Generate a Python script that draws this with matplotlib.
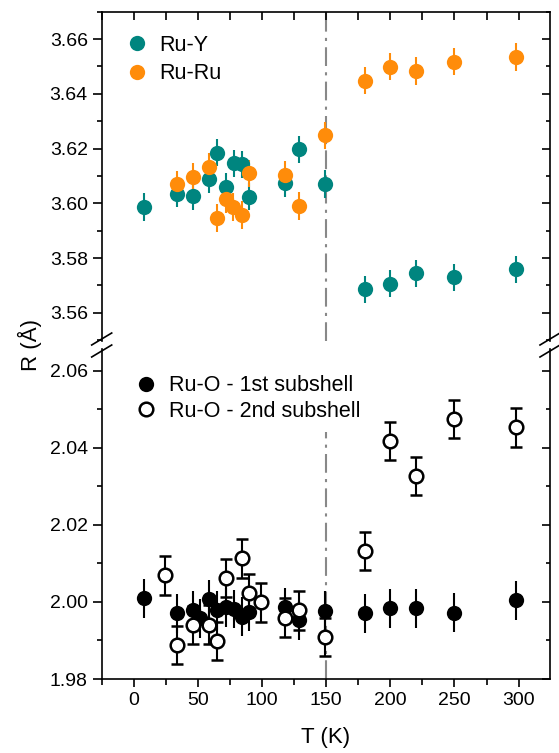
import matplotlib
matplotlib.use("Agg")
import matplotlib.pyplot as plt
from matplotlib.lines import Line2D
from matplotlib.ticker import MultipleLocator

plt.rcParams['font.family'] = ['Liberation Sans', 'DejaVu Sans']

# upper panel: Ru-Y and Ru-Ru distances
t_ruy = [8, 34, 46, 59, 65, 72, 78, 84, 90, 118, 129, 149, 180, 200, 220, 250, 298]
r_ruy = [3.5987, 3.6035, 3.6027, 3.6089, 3.6185, 3.6061, 3.6146, 3.6142, 3.6024,
         3.6073, 3.6197, 3.6070, 3.5686, 3.5707, 3.5744, 3.5729, 3.5759]
t_ruru = [34, 46, 59, 65, 72, 77, 84, 90, 118, 129, 149, 180, 200, 220, 250, 298]
r_ruru = [3.6069, 3.6097, 3.6133, 3.5947, 3.6015, 3.5987, 3.5957, 3.6109, 3.6103,
          3.5990, 3.6248, 3.6448, 3.6499, 3.6483, 3.6517, 3.6535]
err_top = 0.005

# lower panel: Ru-O subshells
t_o1 = [8, 34, 46, 52, 59, 65, 72, 78, 84, 90, 118, 129, 149, 180, 200, 220, 250, 298]
r_o1 = [2.0009, 1.9970, 1.9979, 1.9957, 2.0008, 1.9978, 1.9986, 1.9981, 1.9962, 1.9974,
        1.9987, 1.9952, 1.9977, 1.9970, 1.9983, 1.9983, 1.9972, 2.0004]
t_o2 = [24, 34, 46, 59, 65, 72, 84, 90, 99, 118, 129, 149, 180, 200, 220, 250, 298]
r_o2 = [2.0069, 1.9888, 1.9940, 1.9941, 1.9899, 2.0062, 2.0113, 2.0023, 1.9999,
        1.9959, 1.9978, 1.9909, 2.0132, 2.0417, 2.0327, 2.0474, 2.0453]
err_bot = 0.005

teal = '#00857f'
orange = '#ff8c0a'
W, H = 559, 753


def box(l, t, r, b):
    return [l / W, 1 - b / H, (r - l) / W, (b - t) / H]


fig = plt.figure(figsize=(W / 100, H / 100), dpi=100)
ax1 = fig.add_axes(box(101.7, 11.7, 550, 341))
ax2 = fig.add_axes(box(101.7, 349, 550, 679))

eb = dict(fmt='o', ms=11, elinewidth=1.5, capsize=4, capthick=1.5)
ax1.errorbar(t_ruy, r_ruy, yerr=err_top, color=teal, mew=0, **eb)
ax1.errorbar(t_ruru, r_ruru, yerr=err_top, color=orange, mew=0, **eb)
ax1.axvline(150, color='#888888', lw=1.5, ls=(0, (9, 3, 1.5, 3)), zorder=0)

ax2.errorbar(t_o1, r_o1, yerr=err_bot, color='black', mew=0, **eb)
ax2.errorbar(t_o2, r_o2, yerr=err_bot, color='black', mfc='white', mec='black',
             mew=1.8, **dict(eb, ms=9.8))
ax2.vlines(150, 1.98, 2.0441, color='#888888', lw=1.5, ls=(0, (9, 3, 1.5, 3)), zorder=0)

ax1.set_xlim(-25, 324.5)
ax2.set_xlim(-25, 324.5)
ax1.set_ylim(3.5497, 3.670)
ax2.set_ylim(1.98, 2.0656)

for ax in (ax1, ax2):
    for s in ax.spines.values():
        s.set_linewidth(1.2)
    ax.spines['right'].set_visible(False)
    ax.yaxis.set_major_locator(MultipleLocator(0.02))
    ax.yaxis.set_minor_locator(MultipleLocator(0.01))
    ax.yaxis.set_major_formatter(plt.FormatStrFormatter('%.2f'))
    ax.xaxis.set_major_locator(MultipleLocator(50))
    ax.xaxis.set_minor_locator(MultipleLocator(25))
    ax.tick_params(axis='y', which='both', direction='out', width=1.2, labelsize=14,
                   right=False)
    ax.tick_params(axis='y', which='major', length=6.5)
    ax.tick_params(axis='y', which='minor', length=3.5)
    ry = ax.secondary_yaxis('right')
    ry.spines['right'].set_linewidth(1.2)
    ry.yaxis.set_major_locator(MultipleLocator(0.02))
    ry.yaxis.set_minor_locator(MultipleLocator(0.01))
    ry.tick_params(which='both', direction='in', width=1.2, labelright=False)
    ry.tick_params(which='major', length=6)
    ry.tick_params(which='minor', length=3)

ax1.spines['bottom'].set_visible(False)
ax1.tick_params(axis='x', which='both', bottom=False, labelbottom=False)
ax1.spines['top'].set_visible(False)
tx = ax1.secondary_xaxis('top')
tx.spines['top'].set_linewidth(1.2)
tx.xaxis.set_major_locator(MultipleLocator(25))
tx.tick_params(direction='in', width=1.2, length=6, labeltop=False)

ax2.spines['top'].set_visible(False)
ax2.tick_params(axis='x', which='both', direction='out', width=1.2, labelsize=14, top=False)
ax2.tick_params(axis='x', which='major', length=6)
ax2.tick_params(axis='x', which='minor', length=4)
ax2.set_xlabel('T (K)', fontsize=16, labelpad=13)

fig.text(30 / W, 1 - 345 / H, 'R (Å)', rotation=90, fontsize=16, ha='center', va='center')

# legends (markers only)
h1 = [Line2D([], [], ls='none', marker='o', ms=11, color=teal, mew=0),
      Line2D([], [], ls='none', marker='o', ms=11, color=orange, mew=0)]
ax1.legend(h1, ['Ru-Y', 'Ru-Ru'], loc='upper left', bbox_to_anchor=(0.055, 0.93),
           frameon=False, fontsize=15.5, borderpad=0, borderaxespad=0,
           handlelength=1.0, handletextpad=0.55, labelspacing=0.35)
h2 = [Line2D([], [], ls='none', marker='o', ms=11, color='black', mew=0),
      Line2D([], [], ls='none', marker='o', ms=9.8, mfc='white', mec='black', mew=1.8)]
ax2.legend(h2, ['Ru-O - 1st subshell', 'Ru-O - 2nd subshell'], loc='upper left',
           bbox_to_anchor=(0.075, 0.92), frameon=False, fontsize=15.5, borderpad=0,
           borderaxespad=0, handlelength=1.0, handletextpad=0.55, labelspacing=0.2)

# axis break marks
for xs in (101.7, 550):
    for yc in (339, 351):
        fig.add_artist(Line2D([(xs - 10) / W, (xs + 10) / W],
                              [1 - (yc + 6) / H, 1 - (yc - 6) / H],
                              color='black', lw=1.2))

fig.savefig('out.png', dpi=100)
